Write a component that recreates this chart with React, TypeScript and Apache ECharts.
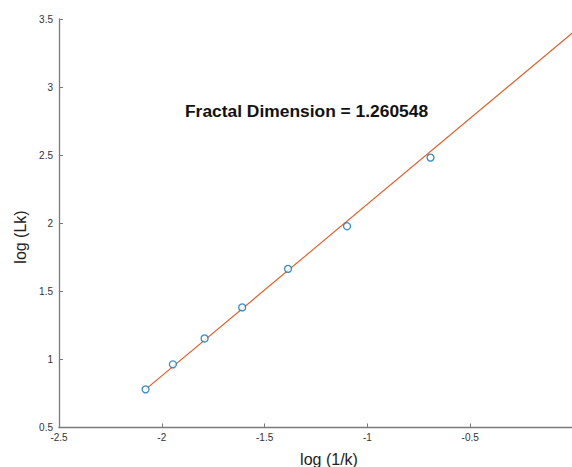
import React, { useEffect, useRef } from "react";
import * as echarts from "echarts";

// log(1/k) and log(Lk) observations
const logInvK = [-2.079, -1.946, -1.792, -1.609, -1.386, -1.099, -0.693];
const logLk = [0.78, 0.964, 1.154, 1.382, 1.665, 1.978, 2.482];
// fitted line end points
const fitX = [-2.079, 0];
const fitY = [0.78, 3.401];
const titleText = "Fractal Dimension = 1.260548";
const xName = "log (1/k)";
const yName = "log (Lk)";

export default function App() {
  const ref = useRef<HTMLDivElement>(null);
  useEffect(() => {
    document.body.style.margin = "0";
    document.body.style.overflow = "hidden";
    const chart = echarts.init(ref.current!, null, { renderer: "svg" });
    const font = "Liberation Sans, Arial, Helvetica, sans-serif";
    const axisColor = "#7a7a7a";
    chart.setOption({
      animation: false,
      grid: { left: 59, right: 0, top: 19, bottom: 39.5, containLabel: false },
      xAxis: {
        type: "value",
        min: -2.5,
        max: 0,
        interval: 0.5,
        axisLine: { onZero: false, lineStyle: { color: axisColor, width: 1.3 } },
        axisTick: { inside: true, length: 4, lineStyle: { color: axisColor } },
        axisLabel: {
          color: "#333",
          fontSize: 10,
          fontFamily: font,
          margin: 5,
          formatter: (v: number) => (v === 0 ? "" : String(v)),
        },
        splitLine: { show: false },
      },
      yAxis: {
        type: "value",
        min: 0.5,
        max: 3.5,
        interval: 0.5,
        axisLine: { onZero: false, lineStyle: { color: axisColor, width: 1.3 } },
        axisTick: { inside: true, length: 4, lineStyle: { color: axisColor } },
        axisLabel: { color: "#333", fontSize: 10, fontFamily: font, margin: 6 },
        splitLine: { show: false },
      },
      series: [
        {
          type: "line",
          data: fitX.map((x, i) => [x, fitY[i]]),
          showSymbol: false,
          symbol: "none",
          lineStyle: { color: "#E2581C", width: 1.1 },
          z: 2,
        },
        {
          type: "scatter",
          data: logInvK.map((x, i) => [x, logLk[i]]),
          symbol: "circle",
          symbolSize: 7,
          itemStyle: { color: "#ffffff", borderColor: "#0072BD", borderWidth: 1.3 },
          z: 3,
        },
      ],
      graphic: [
        {
          type: "text",
          left: 185,
          top: 102,
          style: {
            text: titleText,
            font: `bold 17.4px ${font}`,
            fill: "#111",
          },
        },
        {
          type: "text",
          x: 329,
          y: 459,
          style: {
            text: xName,
            font: `16px ${font}`,
            fill: "#222",
            align: "center",
            verticalAlign: "middle",
          },
        },
        {
          type: "text",
          x: 20,
          y: 237,
          rotation: Math.PI / 2,
          style: {
            text: yName,
            font: `16px ${font}`,
            fill: "#222",
            align: "center",
            verticalAlign: "middle",
          },
        },
      ],
    });
    return () => chart.dispose();
  }, []);
  return <div ref={ref} style={{ width: 576, height: 467 }} />;
}
